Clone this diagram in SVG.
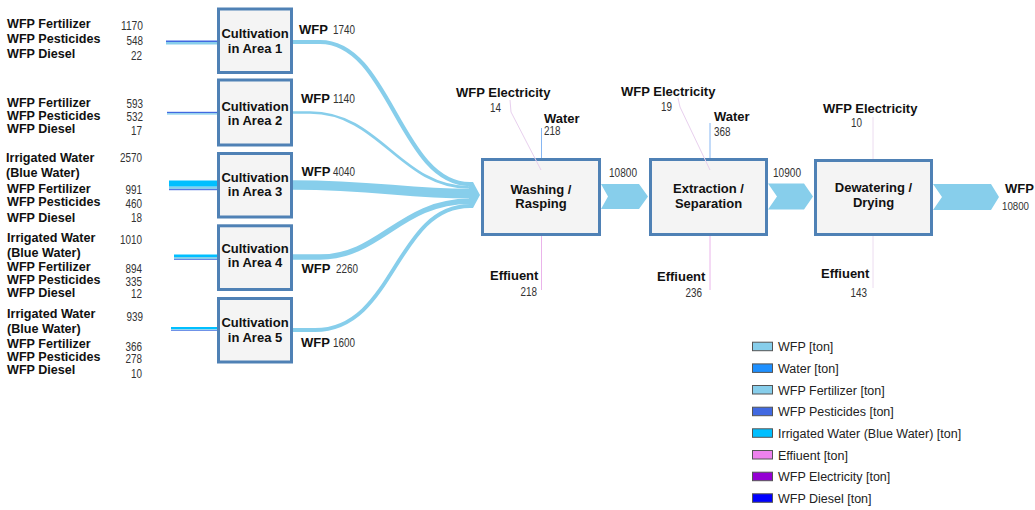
<svg xmlns="http://www.w3.org/2000/svg" width="1035" height="510" viewBox="0 0 1035 510">
<style>
.lb{font-family:"Liberation Sans",Arial,sans-serif;font-weight:bold;font-size:13px;fill:#111}
.in{font-size:12.6px}
.nm{font-family:"Liberation Sans",Arial,sans-serif;font-size:12.5px;fill:#333}
.sm{font-size:11px}
.lg{font-family:"Liberation Sans",Arial,sans-serif;font-size:12.5px;fill:#222}
.box{fill:#f4f4f4;stroke:#4f81b5;stroke-width:3}
.flow{fill:none;stroke:#87ceeb}
.chev{fill:#87ceeb}
.sw{stroke:#555;stroke-width:1}
.ctr{text-anchor:middle}
.end{text-anchor:end}
</style>
<rect width="1035" height="510" fill="#fff"/>

<g id="inputs-area1">
<text class="lb in" x="7" y="28">WFP Fertilizer</text><text class="nm end" x="143" y="29.5" textLength="22" lengthAdjust="spacingAndGlyphs">1170</text>
<text class="lb in" x="7" y="43">WFP Pesticides</text><text class="nm end" x="143" y="44.5" textLength="16.5" lengthAdjust="spacingAndGlyphs">548</text>
<text class="lb in" x="7" y="57.5">WFP Diesel</text><text class="nm end" x="142" y="59.5" textLength="11" lengthAdjust="spacingAndGlyphs">22</text>
</g>
<g id="inputs-area2">
<text class="lb in" x="7" y="107">WFP Fertilizer</text><text class="nm end" x="143" y="107.5" textLength="16.5" lengthAdjust="spacingAndGlyphs">593</text>
<text class="lb in" x="7" y="120">WFP Pesticides</text><text class="nm end" x="143" y="121" textLength="16.5" lengthAdjust="spacingAndGlyphs">532</text>
<text class="lb in" x="7" y="133">WFP Diesel</text><text class="nm end" x="142" y="135" textLength="11" lengthAdjust="spacingAndGlyphs">17</text>
</g>
<g id="inputs-area3">
<text class="lb in" x="6" y="162">Irrigated Water</text><text class="nm end" x="142" y="162" textLength="22" lengthAdjust="spacingAndGlyphs">2570</text>
<text class="lb in" x="6" y="176.5">(Blue Water)</text>
<text class="lb in" x="7" y="193">WFP Fertilizer</text><text class="nm end" x="142" y="194" textLength="16.5" lengthAdjust="spacingAndGlyphs">991</text>
<text class="lb in" x="7" y="206">WFP Pesticides</text><text class="nm end" x="142" y="207.5" textLength="16.5" lengthAdjust="spacingAndGlyphs">460</text>
<text class="lb in" x="7" y="221.5">WFP Diesel</text><text class="nm end" x="142" y="222" textLength="11" lengthAdjust="spacingAndGlyphs">18</text>
</g>
<g id="inputs-area4">
<text class="lb in" x="7" y="242">Irrigated Water</text><text class="nm end" x="142" y="244" textLength="22" lengthAdjust="spacingAndGlyphs">1010</text>
<text class="lb in" x="7" y="257">(Blue Water)</text>
<text class="lb in" x="7" y="271">WFP Fertilizer</text><text class="nm end" x="142" y="273" textLength="16.5" lengthAdjust="spacingAndGlyphs">894</text>
<text class="lb in" x="7" y="284">WFP Pesticides</text><text class="nm end" x="142" y="286" textLength="16.5" lengthAdjust="spacingAndGlyphs">335</text>
<text class="lb in" x="7" y="296.5">WFP Diesel</text><text class="nm end" x="142" y="298" textLength="11" lengthAdjust="spacingAndGlyphs">12</text>
</g>
<g id="inputs-area5">
<text class="lb in" x="7" y="318">Irrigated Water</text><text class="nm end" x="143" y="320.5" textLength="16.5" lengthAdjust="spacingAndGlyphs">939</text>
<text class="lb in" x="7" y="333">(Blue Water)</text>
<text class="lb in" x="7" y="348">WFP Fertilizer</text><text class="nm end" x="142" y="350.5" textLength="16.5" lengthAdjust="spacingAndGlyphs">366</text>
<text class="lb in" x="7" y="360.5">WFP Pesticides</text><text class="nm end" x="142" y="363" textLength="16.5" lengthAdjust="spacingAndGlyphs">278</text>
<text class="lb in" x="7" y="374">WFP Diesel</text><text class="nm end" x="142" y="377.5" textLength="11" lengthAdjust="spacingAndGlyphs">10</text>
</g>

<g id="cultivation-1"><rect class="box" x="218.5" y="9" width="73" height="63.5"/><text class="lb ctr" x="255" y="38">Cultivation</text><text class="lb ctr" x="255" y="52.7">in Area 1</text></g>
<g id="cultivation-2"><rect class="box" x="218.5" y="80" width="73" height="65"/><text class="lb ctr" x="255" y="110.7">Cultivation</text><text class="lb ctr" x="255" y="125">in Area 2</text></g>
<g id="cultivation-3"><rect class="box" x="218.5" y="153.5" width="73" height="63.5"/><text class="lb ctr" x="255" y="181.7">Cultivation</text><text class="lb ctr" x="255" y="196">in Area 3</text></g>
<g id="cultivation-4"><rect class="box" x="218.5" y="225.8" width="73" height="63.7"/><text class="lb ctr" x="255" y="252.7">Cultivation</text><text class="lb ctr" x="255" y="266.7">in Area 4</text></g>
<g id="cultivation-5"><rect class="box" x="218.5" y="298.5" width="73" height="63.5"/><text class="lb ctr" x="255" y="326.7">Cultivation</text><text class="lb ctr" x="255" y="341.7">in Area 5</text></g>

<g id="washing"><rect class="box" x="482.5" y="159.5" width="117" height="75"/><text class="lb ctr" x="541" y="194">Washing /</text><text class="lb ctr" x="541" y="208">Rasping</text></g>
<g id="extraction"><rect class="box" x="650.5" y="159.5" width="116" height="75"/><text class="lb ctr" x="708.5" y="193">Extraction /</text><text class="lb ctr" x="708.5" y="208">Separation</text></g>
<g id="dewatering"><rect class="box" x="815.5" y="160.5" width="116" height="74"/><text class="lb ctr" x="873.5" y="192">Dewatering /</text><text class="lb ctr" x="873.5" y="207">Drying</text></g>

<g id="connectors">
<rect x="166" y="40.5" width="51" height="1.5" fill="#4169e1"/><rect x="166" y="42" width="51" height="2.5" fill="#87ceeb"/>
<rect x="167" y="111.8" width="50" height="1.4" fill="#4169e1"/><rect x="167" y="113.2" width="50" height="1.4" fill="#87ceeb"/>
<rect x="169" y="180.5" width="48" height="6.2" fill="#00bfff"/><rect x="169" y="186.7" width="48" height="2.4" fill="#87ceeb"/><rect x="169" y="189.1" width="48" height="1.1" fill="#4169e1"/>
<rect x="174" y="254.5" width="43" height="2.5" fill="#00bfff"/><rect x="174" y="257" width="43" height="2" fill="#87ceeb"/><rect x="174" y="259" width="43" height="0.8" fill="#4169e1"/>
<rect x="171" y="327" width="46" height="2.3" fill="#00bfff"/><rect x="171" y="329.3" width="46" height="1" fill="#87ceeb"/><rect x="171" y="330.3" width="46" height="0.7" fill="#4169e1"/>
<path class="flow" stroke-width="4.2" d="M293,42 L320,42 C390,42 400,184.1 470,184.1"/>
<path class="flow" stroke-width="2.7" d="M293,112.5 L310,112.5 C380,112.5 400,187.5 470,187.5"/>
<path class="flow" stroke-width="9.7" d="M293,185 C380,185 400,193.7 470,193.7"/>
<path class="flow" stroke-width="5.4" d="M293,257 L320,257 C380,257 400,201.3 470,201.3"/>
<path class="flow" stroke-width="3.9" d="M293,330 L315,330 C395,330 395,206 470,206"/>
<polygon class="chev" points="469,181.9 473,181.9 480,195 473,208 469,208"/>
<polygon class="chev" points="601,184 639,184 648,196.5 639,209 601,209 608,196.5"/>
<polygon class="chev" points="768,183.5 804,183.5 813,196.5 804,209.5 768,209.5 777,196.5"/>
<polygon class="chev" points="933,184 991,184 999,197 991,210 933,210 942,197"/>
<path d="M510,100 L511,112 L541,170" fill="none" stroke="#e8d0ee" stroke-width="1"/>
<line x1="541.5" y1="128" x2="541.5" y2="158" stroke="#86b6f2" stroke-width="1"/>
<line x1="541.5" y1="236" x2="541.5" y2="290" stroke="#eab4ea" stroke-width="1"/>
<path d="M678,98 L680,107 L710,170" fill="none" stroke="#e8d0ee" stroke-width="1"/>
<line x1="710" y1="123" x2="710" y2="158" stroke="#86b6f2" stroke-width="1"/>
<line x1="710" y1="236" x2="710" y2="290" stroke="#eab4ea" stroke-width="1"/>
<line x1="873" y1="117" x2="873" y2="159" stroke="#ecdcf0" stroke-width="1"/>
<line x1="873" y1="236" x2="873" y2="288" stroke="#ecdcf0" stroke-width="1"/>
</g>

<g id="flow-labels">
<text class="lb" x="299" y="34">WFP</text><text class="nm" x="333" y="34" textLength="22" lengthAdjust="spacingAndGlyphs">1740</text>
<text class="lb" x="301" y="102.7">WFP</text><text class="nm" x="333" y="102.7" textLength="22" lengthAdjust="spacingAndGlyphs">1140</text>
<text class="lb" x="301.5" y="175.7">WFP</text><text class="nm" x="333" y="175.7" textLength="22" lengthAdjust="spacingAndGlyphs">4040</text>
<text class="lb" x="301.5" y="273">WFP</text><text class="nm" x="336" y="273" textLength="22" lengthAdjust="spacingAndGlyphs">2260</text>
<text class="lb" x="301" y="346.7">WFP</text><text class="nm" x="333" y="346.7" textLength="22" lengthAdjust="spacingAndGlyphs">1600</text>
<text class="nm" x="609" y="177" textLength="28" lengthAdjust="spacingAndGlyphs">10800</text>
<text class="nm" x="773" y="177" textLength="28" lengthAdjust="spacingAndGlyphs">10900</text>
<text class="lb" x="1005" y="193">WFP</text><text class="nm sm" x="1002" y="210" textLength="27" lengthAdjust="spacingAndGlyphs">10800</text>
<text class="lb" x="456" y="97">WFP Electricity</text><text class="nm" x="490" y="112" textLength="11" lengthAdjust="spacingAndGlyphs">14</text>
<text class="lb" x="544" y="123">Water</text><text class="nm" x="544" y="135" textLength="16.5" lengthAdjust="spacingAndGlyphs">218</text>
<text class="lb" x="490" y="280">Effiuent</text><text class="nm end" x="537" y="296" textLength="16.5" lengthAdjust="spacingAndGlyphs">218</text>
<text class="lb" x="621" y="96">WFP Electricity</text><text class="nm" x="661" y="111" textLength="11" lengthAdjust="spacingAndGlyphs">19</text>
<text class="lb" x="714" y="121">Water</text><text class="nm" x="714" y="136" textLength="16.5" lengthAdjust="spacingAndGlyphs">368</text>
<text class="lb" x="657" y="281">Effiuent</text><text class="nm end" x="702" y="297" textLength="16.5" lengthAdjust="spacingAndGlyphs">236</text>
<text class="lb" x="823" y="113">WFP Electricity</text><text class="nm" x="851" y="127" textLength="11" lengthAdjust="spacingAndGlyphs">10</text>
<text class="lb" x="821" y="278">Effiuent</text><text class="nm end" x="867" y="297" textLength="16.5" lengthAdjust="spacingAndGlyphs">143</text>
</g>

<g id="legend">
<rect class="sw" x="752.5" y="342.2" width="20" height="8.5" fill="#87ceeb"/><text class="lg" x="778" y="351.2">WFP [ton]</text>
<rect class="sw" x="752.5" y="363.9" width="20" height="8.5" fill="#1e90ff"/><text class="lg" x="778" y="372.9">Water [ton]</text>
<rect class="sw" x="752.5" y="385.5" width="20" height="8.5" fill="#87ceeb"/><text class="lg" x="778" y="394.5">WFP Fertilizer [ton]</text>
<rect class="sw" x="752.5" y="407.2" width="20" height="8.5" fill="#4169e1"/><text class="lg" x="778" y="416.2">WFP Pesticides [ton]</text>
<rect class="sw" x="752.5" y="428.8" width="20" height="8.5" fill="#00bfff"/><text class="lg" x="778" y="437.8">Irrigated Water (Blue Water) [ton]</text>
<rect class="sw" x="752.5" y="450.5" width="20" height="8.5" fill="#ee82ee"/><text class="lg" x="778" y="459.5">Effiuent [ton]</text>
<rect class="sw" x="752.5" y="472.2" width="20" height="8.5" fill="#9400d3"/><text class="lg" x="778" y="481.2">WFP Electricity [ton]</text>
<rect class="sw" x="752.5" y="493.8" width="20" height="8.5" fill="#0000ff"/><text class="lg" x="778" y="502.8">WFP Diesel [ton]</text>
</g>
</svg>
